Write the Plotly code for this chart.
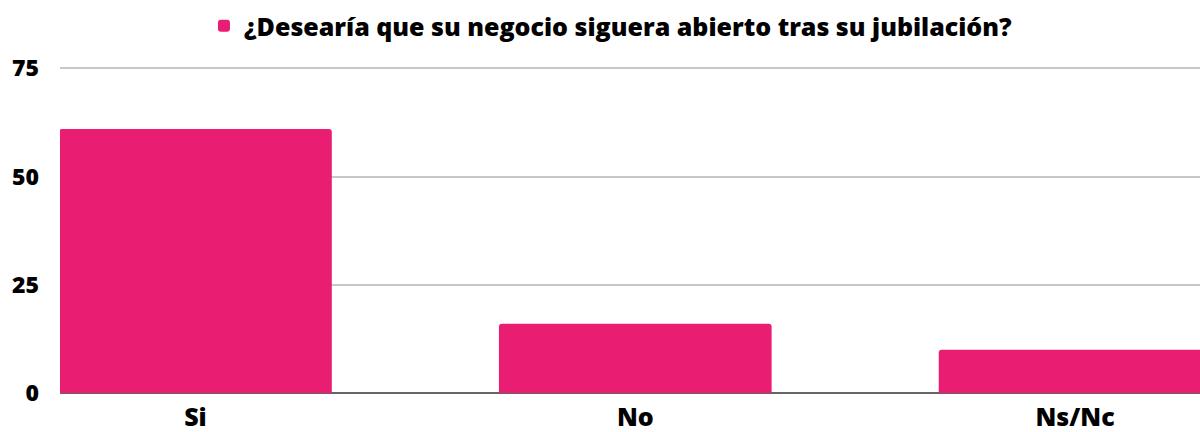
import plotly.graph_objects as go

categories = ["Si", "No", "Ns/Nc"]
values = [61, 16, 10]
series_name = "¿Desearía que su negocio siguera abierto tras su jubilación?"
y_ticks = [0, 25, 50, 75]

PINK = "#E91E73"
FONT = "Open Sans"

fig = go.Figure()
fig.add_trace(go.Bar(
    x=categories, y=values, name=series_name,
    marker=dict(color=PINK, cornerradius=3, line=dict(width=0)),
    showlegend=True,
))

fig.update_layout(
    width=1200, height=432,
    margin=dict(l=60, r=0, t=67, b=39, autoexpand=False),
    paper_bgcolor="white", plot_bgcolor="white",
    bargap=0.38,
    font=dict(family=FONT, color="black"),
    legend=dict(
        orientation="h", x=0.4833, xanchor="center", y=0.993, yanchor="top",
        yref="container", font=dict(family=FONT, size=25, weight=800, color="black"),
    ),
)

fig.update_xaxes(
    range=[-0.308, 2.284], showgrid=False, showline=False, ticks="",
    tickfont=dict(family=FONT, size=25, weight=800, color="black"),
    ticklabelstandoff=7,
)
fig.update_yaxes(
    range=[0, 75.3], tickvals=y_ticks, showline=False, ticks="",
    gridcolor="#c8c8c8", gridwidth=1.5,
    zeroline=True, zerolinecolor="#666666", zerolinewidth=2,
    tickfont=dict(family=FONT, size=23, weight=800, color="black"),
    ticklabelstandoff=20,
)

# drop the default body margin so the figure fills the window
fig.write_html(
    "out.html",
    config={"displayModeBar": False},
    post_script="document.body.style.margin='0';document.body.style.overflow='hidden';",
)
